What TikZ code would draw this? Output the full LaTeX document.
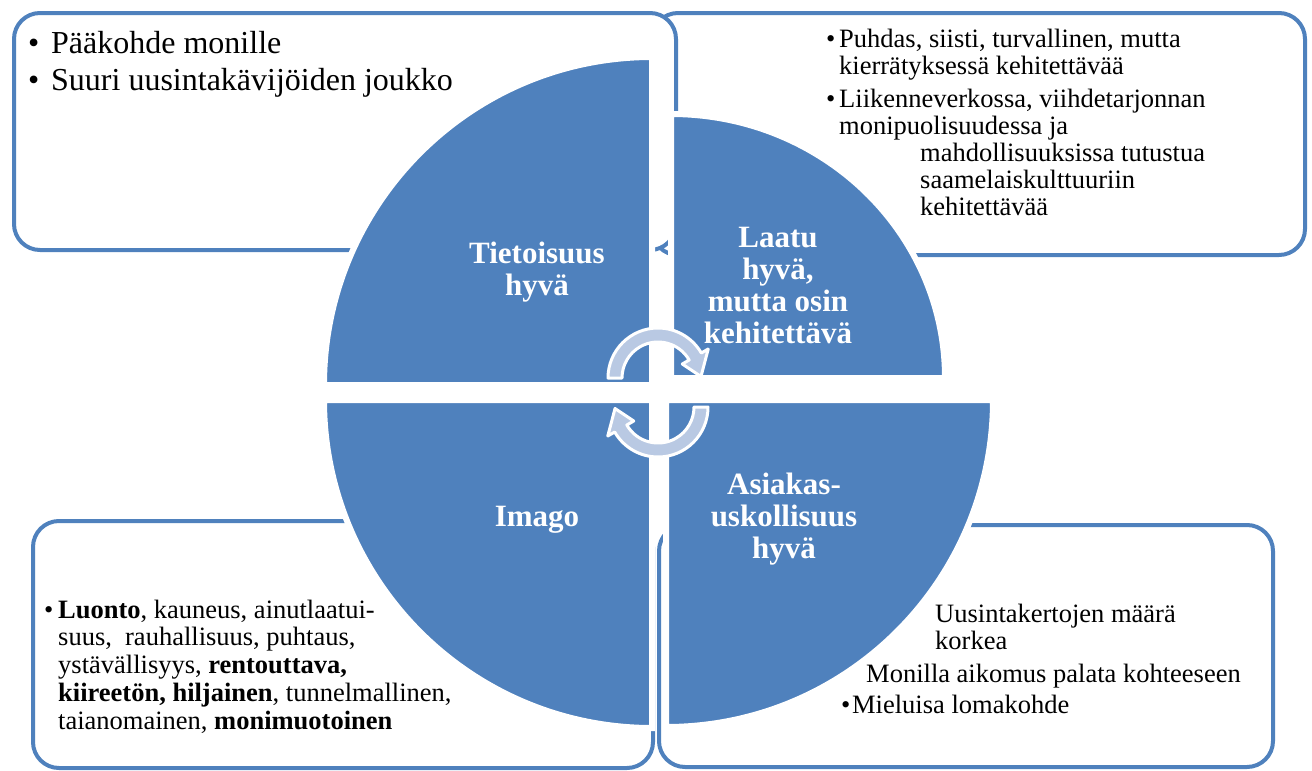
\documentclass[tikz,border=0pt]{standalone}
\usepackage{fontspec}
\setmainfont{Liberation Serif}
\usetikzlibrary{calc}
\definecolor{pieblue}{RGB}{79,129,189}
\definecolor{arrowblue}{RGB}{185,201,227}

\begin{document}
\begin{tikzpicture}[
x=1pt, y=-1pt,
infobox/.style={rectangle, rounded corners=26pt, draw=pieblue, line width=4pt, fill=white, inner sep=0pt},
pieblock/.style={fill=pieblue, draw=white, line width=6pt},
cyclearrow/.style={fill=arrowblue, draw=white, line width=3pt, line join=round},
pielabel/.style={text=white, font=\fontsize{31}{32}\selectfont\bfseries, align=center, inner sep=0pt, anchor=base},
boxtext/.style={font=\fontsize{26.5}{27}\selectfont, align=left, inner sep=0pt, anchor=base west}
]
\useasboundingbox (0,0) rectangle (1312,771);
%Boxes
\node[infobox, minimum width=653pt, minimum height=242pt] (qualitybox) at (978.5,134) {};
\node[infobox, minimum width=662pt, minimum height=237pt] (awarebox)   at (345,131.5) {};
\node[infobox, minimum width=620pt, minimum height=247pt] (imagebox)   at (343,644.5) {};
\node[infobox, minimum width=614pt, minimum height=242pt] (loyaltybox) at (966,646) {};
%Pies
\coordinate (awarecorner)   at (652,385);
\coordinate (qualitycorner) at (671,378);
\coordinate (imagecorner)   at (652,400);
\coordinate (loyaltycorner) at (666,400);
\filldraw[pieblock] (awarecorner) -- ++(-328,0) arc[start angle=180, end angle=270, radius=328] -- cycle;
\filldraw[pieblock] (qualitycorner) -- ++(0,-264) arc[start angle=270, end angle=360, x radius=274, y radius=264] -- cycle;
\filldraw[pieblock] (imagecorner) -- ++(-328,0) arc[start angle=180, end angle=90, radius=328] -- cycle;
\filldraw[pieblock] (loyaltycorner) -- ++(327,0) arc[start angle=0, end angle=90, radius=327] -- cycle;
%Arrows
\coordinate (uppercycle) at (658,378);
\coordinate (lowercycle) at (658,407);
\filldraw[cyclearrow] ($(uppercycle)+(180:50)$) arc[start angle=180, end angle=330, radius=50]
  -- ($(uppercycle)+(330:58)$) -- ($(uppercycle)+(358:43)$) -- ($(uppercycle)+(330:28)$)
  -- ($(uppercycle)+(330:36)$) arc[start angle=330, end angle=180, radius=36] -- cycle;
\filldraw[cyclearrow] ($(lowercycle)+(0:50)$) arc[start angle=0, end angle=150, radius=50]
  -- ($(lowercycle)+(150:58)$) -- ($(lowercycle)+(178:43)$) -- ($(lowercycle)+(150:28)$)
  -- ($(lowercycle)+(150:36)$) arc[start angle=150, end angle=0, radius=36] -- cycle;
%Labels (base = last line)
\node[pielabel] (awarelabel)   at (537,295)   {Tietoisuus\\hyvä};
\node[pielabel] (qualitylabel) at (778,343.5) {Laatu\\hyvä,\\mutta osin\\kehitettävä};
\node[pielabel] (imagelabel)   at (537,526)   {Imago};
\node[pielabel] (loyaltylabel) at (784,558)   {Asiakas-\\uskollisuus\\hyvä};
%Texts
\node[boxtext, font=\fontsize{32}{37}\selectfont] (awaretext) at (28,90.5)
  {\makebox[23pt][l]{•}Pääkohde monille\\ \makebox[23pt][l]{•}Suuri uusintakävijöiden joukko};
\node[boxtext] (qualitytext) at (826,215) {\makebox[13pt][l]{•}Puhdas, siisti, turvallinen, mutta\\
  \hspace*{13pt}kierrätyksessä kehitettävää\\[6pt]
  \makebox[13pt][l]{•}Liikenneverkossa, viihdetarjonnan\\
  \hspace*{13pt}monipuolisuudessa ja\\
  \hspace*{94pt}mahdollisuuksissa tutustua\\
  \hspace*{94pt}saamelaiskulttuuriin\\
  \hspace*{94pt}kehitettävää};
\node[boxtext, font=\fontsize{26.5}{27.7}\selectfont] (imagetext) at (44,729)
  {\makebox[14pt][l]{•}\textbf{Luonto}, kauneus, ainutlaatui-\\
  \hspace*{14pt}suus,\ \ rauhallisuus, puhtaus,\\
  \hspace*{14pt}ystävällisyys, \textbf{rentouttava,}\\
  \hspace*{14pt}\textbf{kiireetön, hiljainen}, tunnelmallinen,\\
  \hspace*{14pt}taianomainen, \textbf{monimuotoinen}};
\node[boxtext] (loyaltytext) at (841,713) {\hspace*{94pt}Uusintakertojen määrä\\
  \hspace*{94pt}korkea\\[6pt]
  \hspace*{25pt}Monilla aikomus palata kohteeseen\\[4pt]
  \makebox[11pt][l]{•}Mieluisa lomakohde};
\end{tikzpicture}
\end{document}
